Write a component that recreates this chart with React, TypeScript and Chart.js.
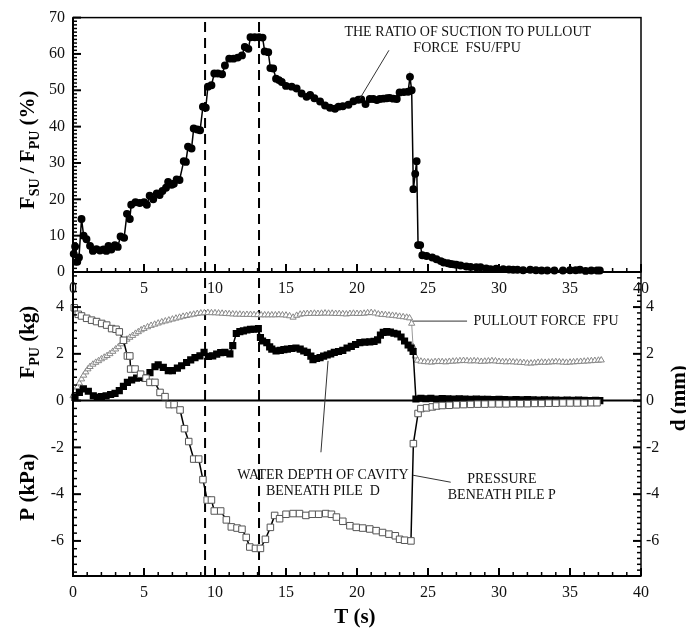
import React, { useEffect, useRef } from "react";
import { Chart, registerables } from "chart.js";

Chart.register(...registerables);

// ---------------- data ----------------
const timeTicks = [0, 5, 10, 15, 20, 25, 30, 35, 40];
const ratioTicks = [0, 10, 20, 30, 40, 50, 60, 70];
const lowerTicks = [-6, -4, -2, 0, 2, 4];
const dividerTimes = [9.3, 13.1];

// FSU/FPU ratio (%) vs T (s)
const ratioSeries: [number, number][] = [
  [0.05, 5.0], [0.15, 7.0], [0.3, 2.8], [0.42, 4.0], [0.6, 14.6], [0.75, 10.0], [0.95, 9.0],
  [1.2, 7.2], [1.4, 5.8], [1.65, 6.3], [1.9, 5.9], [2.15, 6.2], [2.35, 5.8], [2.5, 7.2],
  [2.7, 6.2], [2.95, 7.4], [3.15, 6.9], [3.35, 9.8], [3.6, 9.4], [3.8, 16.0], [4.0, 14.6],
  [4.1, 18.5], [4.4, 19.2], [4.7, 19.0], [5.0, 19.2], [5.2, 18.5], [5.4, 21.0], [5.65, 20.0],
  [5.9, 21.6], [6.1, 21.2], [6.3, 22.3], [6.55, 23.2], [6.7, 24.8], [6.95, 24.0], [7.1, 24.3],
  [7.3, 25.5], [7.5, 25.3], [7.8, 30.5], [7.95, 30.3], [8.1, 34.5], [8.35, 34.0], [8.5, 39.5],
  [8.75, 39.2], [8.95, 39.0], [9.15, 45.5], [9.35, 45.2], [9.5, 51.0], [9.75, 51.4], [9.95, 54.6],
  [10.2, 54.6], [10.5, 54.4], [10.7, 56.8], [11.0, 58.7], [11.3, 58.7], [11.6, 59.0], [11.9, 59.6],
  [12.1, 61.9], [12.35, 61.4], [12.5, 64.6], [12.8, 64.6], [13.1, 64.6], [13.35, 64.5], [13.5, 60.7],
  [13.75, 60.5], [13.9, 56.1], [14.1, 56.0], [14.3, 53.2], [14.5, 52.8], [14.7, 52.3], [15.0, 51.2],
  [15.4, 51.0], [15.75, 50.5], [16.1, 49.1], [16.45, 48.2], [16.7, 48.7], [17.0, 47.8], [17.4, 46.9],
  [17.75, 45.8], [18.1, 45.2], [18.45, 44.9], [18.7, 45.5], [19.0, 45.6], [19.4, 46.0], [19.75, 47.0],
  [20.1, 47.4], [20.3, 47.5], [20.6, 46.2], [20.9, 47.6], [21.15, 47.6], [21.4, 47.3], [21.6, 47.6],
  [21.85, 47.7], [22.1, 47.8], [22.3, 47.9], [22.55, 47.7], [22.8, 47.6], [23.0, 49.4], [23.3, 49.5],
  [23.6, 49.6], [23.73, 53.7], [23.85, 50.0], [23.97, 22.8], [24.1, 27.0], [24.2, 30.5], [24.3, 7.4],
  [24.45, 7.4], [24.6, 4.6], [24.9, 4.4], [25.3, 4.0], [25.6, 3.5], [25.9, 3.0], [26.1, 2.6],
  [26.4, 2.4], [26.6, 2.2], [26.8, 2.1], [27.0, 2.0], [27.3, 1.8], [27.7, 1.5], [28.0, 1.4],
  [28.4, 1.3], [28.7, 1.3], [29.1, 1.0], [29.4, 0.8], [29.8, 0.9], [30.3, 0.8], [30.7, 0.7],
  [31.0, 0.6], [31.3, 0.6], [31.7, 0.5], [32.2, 0.6], [32.6, 0.5], [33.0, 0.4], [33.4, 0.4],
  [33.9, 0.4], [34.5, 0.4], [35.0, 0.5], [35.4, 0.5], [35.7, 0.6], [36.1, 0.3], [36.5, 0.4],
  [36.9, 0.4], [37.1, 0.4],
];

// Pullout force FPU (kg)
const pulloutSeries: [number, number][] = [
  [0.0, 0.2], [0.15, 0.4], [0.3, 0.58], [0.45, 0.75], [0.6, 0.92], [0.75, 1.08], [0.9, 1.22],
  [1.05, 1.35], [1.2, 1.45], [1.4, 1.55], [1.6, 1.63], [1.8, 1.7], [2.0, 1.78], [2.2, 1.85],
  [2.4, 1.92], [2.6, 2.0], [2.8, 2.1], [3.0, 2.2], [3.2, 2.3], [3.4, 2.42], [3.6, 2.52],
  [3.8, 2.62], [4.0, 2.7], [4.2, 2.78], [4.4, 2.87], [4.6, 2.94], [4.8, 3.02], [5.0, 3.08],
  [5.25, 3.15], [5.5, 3.21], [5.75, 3.26], [6.0, 3.31], [6.25, 3.36], [6.5, 3.4], [6.75, 3.44],
  [7.0, 3.48], [7.25, 3.52], [7.5, 3.56], [7.75, 3.6], [8.0, 3.63], [8.25, 3.66], [8.5, 3.69],
  [8.75, 3.72], [9.0, 3.74], [9.25, 3.75], [9.5, 3.76], [9.75, 3.75], [10.0, 3.75], [10.25, 3.74],
  [10.5, 3.73], [10.75, 3.72], [11.0, 3.71], [11.25, 3.7], [11.5, 3.69], [11.75, 3.69], [12.0, 3.68],
  [12.25, 3.68], [12.5, 3.68], [12.75, 3.67], [13.0, 3.67], [13.25, 3.66], [13.5, 3.66], [13.75, 3.66],
  [14.0, 3.66], [14.25, 3.66], [14.5, 3.67], [14.75, 3.66], [15.0, 3.65], [15.25, 3.62], [15.5, 3.56],
  [15.75, 3.64], [16.0, 3.69], [16.25, 3.71], [16.5, 3.72], [16.75, 3.72], [17.0, 3.73], [17.25, 3.72],
  [17.5, 3.73], [17.75, 3.74], [18.0, 3.73], [18.25, 3.73], [18.5, 3.72], [18.75, 3.72], [19.0, 3.71],
  [19.25, 3.7], [19.5, 3.72], [19.75, 3.73], [20.0, 3.72], [20.25, 3.72], [20.5, 3.73], [20.75, 3.75],
  [21.0, 3.76], [21.25, 3.74], [21.5, 3.7], [21.75, 3.68], [22.0, 3.67], [22.25, 3.65], [22.5, 3.64],
  [22.75, 3.62], [23.0, 3.6], [23.25, 3.58], [23.5, 3.56], [23.7, 3.53], [23.85, 3.3], [23.95, 2.3],
  [24.1, 1.9], [24.25, 1.72], [24.5, 1.68], [24.75, 1.66], [25.0, 1.65], [25.25, 1.64], [25.5, 1.66],
  [25.75, 1.67], [26.0, 1.66], [26.25, 1.65], [26.5, 1.67], [26.75, 1.68], [27.0, 1.69], [27.25, 1.7],
  [27.5, 1.71], [27.75, 1.7], [28.0, 1.69], [28.25, 1.7], [28.5, 1.69], [28.75, 1.67], [29.0, 1.68],
  [29.25, 1.69], [29.5, 1.7], [29.75, 1.69], [30.0, 1.67], [30.25, 1.66], [30.5, 1.65], [30.75, 1.66],
  [31.0, 1.65], [31.25, 1.64], [31.5, 1.63], [31.75, 1.62], [32.0, 1.6], [32.25, 1.6], [32.5, 1.61],
  [32.75, 1.63], [33.0, 1.64], [33.25, 1.63], [33.5, 1.64], [33.75, 1.65], [34.0, 1.66], [34.25, 1.65],
  [34.5, 1.64], [34.75, 1.63], [35.0, 1.64], [35.25, 1.65], [35.5, 1.66], [35.75, 1.67], [36.0, 1.68],
  [36.25, 1.69], [36.5, 1.7], [36.75, 1.71], [37.0, 1.72], [37.2, 1.73],
];

// Water depth of cavity beneath pile D (mm)
const depthSeries: [number, number][] = [
  [0.14, 0.14], [0.45, 0.35], [0.73, 0.5], [1.08, 0.4], [1.43, 0.21], [1.71, 0.14], [2.0, 0.17],
  [2.33, 0.2], [2.65, 0.26], [2.96, 0.31], [3.26, 0.43], [3.55, 0.61], [3.83, 0.78], [4.13, 0.88],
  [4.48, 0.96], [4.76, 0.99], [5.07, 0.96], [5.42, 1.2], [5.77, 1.45], [6.0, 1.53], [6.36, 1.42],
  [6.71, 1.28], [7.0, 1.28], [7.35, 1.39], [7.65, 1.49], [8.0, 1.63], [8.29, 1.74], [8.59, 1.84],
  [8.94, 1.91], [9.23, 2.06], [9.53, 1.89], [9.84, 1.91], [10.12, 1.99], [10.4, 2.05], [10.7, 2.06],
  [11.05, 2.0], [11.25, 2.35], [11.5, 2.87], [11.75, 2.95], [12.0, 2.98], [12.25, 3.02], [12.5, 3.05],
  [12.75, 3.05], [13.05, 3.08], [13.2, 2.7], [13.35, 2.55], [13.65, 2.48], [13.85, 2.3], [14.0, 2.2],
  [14.3, 2.13], [14.6, 2.15], [14.85, 2.18], [15.1, 2.2], [15.4, 2.23], [15.7, 2.25], [16.0, 2.2],
  [16.25, 2.12], [16.5, 2.06], [16.75, 1.9], [16.9, 1.75], [17.15, 1.8], [17.4, 1.84], [17.65, 1.9],
  [17.9, 1.95], [18.15, 2.0], [18.4, 2.06], [18.7, 2.1], [19.0, 2.15], [19.3, 2.25], [19.6, 2.32],
  [19.9, 2.4], [20.2, 2.48], [20.55, 2.5], [20.9, 2.51], [21.2, 2.53], [21.45, 2.6], [21.65, 2.8],
  [21.85, 2.92], [22.1, 2.95], [22.35, 2.93], [22.6, 2.88], [22.85, 2.85], [23.1, 2.72], [23.35, 2.55],
  [23.6, 2.38], [23.8, 2.25], [23.95, 2.1], [24.15, 0.07], [24.5, 0.1], [24.85, 0.08], [25.2, 0.1],
  [25.6, 0.07], [26.0, 0.09], [26.4, 0.08], [26.8, 0.07], [27.2, 0.08], [27.6, 0.07], [28.0, 0.06],
  [28.4, 0.07], [28.8, 0.05], [29.2, 0.06], [29.6, 0.04], [30.0, 0.05], [30.4, 0.04], [30.8, 0.03],
  [31.2, 0.04], [31.6, 0.03], [32.0, 0.04], [32.4, 0.03], [32.8, 0.02], [33.2, 0.03], [33.6, 0.02],
  [34.0, 0.02], [34.4, 0.01], [34.8, 0.02], [35.2, 0.01], [35.6, 0.02], [36.0, 0.01], [36.4, 0.0],
  [36.8, 0.01], [37.1, 0.0],
];

// Pressure beneath pile P (kPa)
const pressureSeries: [number, number][] = [
  [0.09, 3.97], [0.37, 3.69], [0.6, 3.62], [0.96, 3.52], [1.31, 3.44], [1.66, 3.38], [2.02, 3.3],
  [2.37, 3.23], [2.72, 3.08], [3.03, 3.05], [3.26, 2.94], [3.55, 2.58], [3.83, 1.91], [4.0, 1.91],
  [4.06, 1.35], [4.37, 1.35], [4.76, 1.13], [5.14, 0.96], [5.42, 0.78], [5.77, 0.78], [6.13, 0.35],
  [6.48, 0.17], [6.78, -0.17], [7.12, -0.17], [7.54, -0.4], [7.85, -1.2], [8.15, -1.75], [8.5, -2.5],
  [8.85, -2.5], [9.15, -3.38], [9.45, -4.25], [9.75, -4.25], [9.95, -4.72], [10.4, -4.72], [10.8, -5.1],
  [11.15, -5.4], [11.55, -5.45], [11.9, -5.5], [12.2, -5.85], [12.45, -6.26], [12.85, -6.32],
  [13.2, -6.32], [13.55, -5.93], [13.9, -5.42], [14.2, -4.91], [14.55, -5.05], [15.0, -4.86],
  [15.5, -4.83], [15.95, -4.83], [16.4, -4.91], [16.85, -4.86], [17.3, -4.86], [17.8, -4.83],
  [18.2, -4.86], [18.55, -4.98], [19.0, -5.16], [19.5, -5.35], [19.95, -5.42], [20.4, -5.45],
  [20.9, -5.49], [21.35, -5.56], [21.8, -5.64], [22.25, -5.71], [22.7, -5.78], [23.0, -5.93],
  [23.35, -5.97], [23.8, -6.0], [23.97, -1.84], [24.3, -0.55], [24.5, -0.34], [24.9, -0.31],
  [25.3, -0.27], [25.6, -0.23], [26.0, -0.21], [26.5, -0.2], [27.0, -0.18], [27.5, -0.17],
  [28.0, -0.16], [28.5, -0.15], [29.0, -0.15], [29.5, -0.14], [30.0, -0.14], [30.5, -0.14],
  [31.0, -0.13], [31.5, -0.13], [32.0, -0.13], [32.5, -0.12], [33.0, -0.12], [33.5, -0.11],
  [34.0, -0.11], [34.5, -0.1], [35.0, -0.1], [35.5, -0.1], [36.0, -0.1], [36.5, -0.09], [36.9, -0.09],
];

// ---------------- styling helpers ----------------
const SERIF = "'Liberation Serif', 'Times New Roman', 'DejaVu Serif', serif";
Chart.defaults.font.family = SERIF;

const toXY = (s: [number, number][]) => s.map(([x, y]) => ({ x, y }));

type Part = { t: string; sub?: boolean };

function drawRich(ctx: CanvasRenderingContext2D, parts: Part[], x: number, y: number, vertical: boolean) {
  const main = `bold 21px ${SERIF}`;
  const sub = `bold 14px ${SERIF}`;
  let total = 0;
  const widths = parts.map((p) => {
    ctx.font = p.sub ? sub : main;
    const w = ctx.measureText(p.t).width;
    total += w;
    return w;
  });
  ctx.save();
  ctx.translate(x, y);
  if (vertical) ctx.rotate(-Math.PI / 2);
  ctx.fillStyle = "#000";
  ctx.textAlign = "left";
  ctx.textBaseline = "alphabetic";
  let cx = -total / 2;
  parts.forEach((p, i) => {
    ctx.font = p.sub ? sub : main;
    ctx.fillText(p.t, cx, p.sub ? 5 : 0);
    cx += widths[i];
  });
  ctx.restore();
}

function axisTicks(
  ctx: CanvasRenderingContext2D,
  scale: any,
  side: "left" | "right" | "bottom",
  at: number,
  majors: number[],
  minorStep: number
) {
  const min = scale.min;
  const max = scale.max;
  const line = (v: number, len: number) => {
    const p = scale.getPixelForValue(v);
    ctx.beginPath();
    if (side === "left") {
      ctx.moveTo(at, p);
      ctx.lineTo(at + len, p);
    } else if (side === "right") {
      ctx.moveTo(at, p);
      ctx.lineTo(at - len, p);
    } else {
      ctx.moveTo(p, at);
      ctx.lineTo(p, at - len);
    }
    ctx.stroke();
  };
  ctx.lineWidth = 1.5;
  const start = Math.ceil(min / minorStep - 1e-6);
  for (let i = start; i * minorStep <= max + 1e-6; i++) {
    const v = i * minorStep;
    if (majors.some((m) => Math.abs(m - v) < 1e-6)) continue;
    line(v, 4);
  }
  ctx.lineWidth = 2;
  majors.forEach((m) => line(m, 8));
}

function annotate(ctx: CanvasRenderingContext2D, text: string, x: number, y: number, align: CanvasTextAlign) {
  ctx.font = `14px ${SERIF}`;
  ctx.fillStyle = "#111";
  ctx.textAlign = align;
  ctx.textBaseline = "middle";
  ctx.fillText(text, x, y);
}

function leader(ctx: CanvasRenderingContext2D, x1: number, y1: number, x2: number, y2: number) {
  ctx.strokeStyle = "#333";
  ctx.lineWidth = 1;
  ctx.beginPath();
  ctx.moveTo(x1, y1);
  ctx.lineTo(x2, y2);
  ctx.stroke();
}

function frame(ctx: CanvasRenderingContext2D, a: any) {
  ctx.strokeStyle = "#000";
  ctx.lineWidth = 1.5;
  ctx.strokeRect(a.left, a.top, a.right - a.left, a.bottom - a.top);
  ctx.lineWidth = 2;
  ctx.beginPath();
  ctx.moveTo(a.left, a.top);
  ctx.lineTo(a.left, a.bottom);
  ctx.lineTo(a.right, a.bottom);
  ctx.stroke();
}

const tickFont = { family: SERIF, size: 16 };

const topPlugin = {
  id: "topDecor",
  afterDraw(chart: any) {
    const { ctx, chartArea: a, scales } = chart;
    const x = scales.x;
    const y = scales.y;
    ctx.save();
    frame(ctx, a);
    ctx.strokeStyle = "#000";
    axisTicks(ctx, y, "left", a.left, ratioTicks, 1);
    axisTicks(ctx, x, "bottom", a.bottom, timeTicks, 1);
    drawRich(
      ctx,
      [{ t: "F" }, { t: "SU", sub: true }, { t: " / F" }, { t: "PU", sub: true }, { t: " (%)" }],
      a.left - 39,
      (a.top + a.bottom) / 2 + 5,
      true
    );
    annotate(ctx, "THE RATIO OF SUCTION TO PULLOUT", x.getPixelForValue(27.8), y.getPixelForValue(65.9), "center");
    annotate(ctx, "FORCE  FSU/FPU", x.getPixelForValue(27.75), y.getPixelForValue(61.6), "center");
    leader(ctx, x.getPixelForValue(22.25), y.getPixelForValue(61.0), x.getPixelForValue(20.2), y.getPixelForValue(47.7));
    ctx.restore();
  },
};

const bottomPlugin = {
  id: "bottomDecor",
  beforeDatasetsDraw(chart: any) {
    const { ctx, chartArea: a, scales } = chart;
    const p0 = scales.y.getPixelForValue(0);
    ctx.save();
    ctx.strokeStyle = "#000";
    ctx.lineWidth = 2;
    ctx.beginPath();
    ctx.moveTo(a.left, p0);
    ctx.lineTo(a.right, p0);
    ctx.stroke();
    ctx.restore();
  },
  afterDraw(chart: any) {
    const { ctx, chartArea: a, scales } = chart;
    const x = scales.x;
    const y = scales.y;
    const y2 = scales.y2;
    ctx.save();
    frame(ctx, a);
    ctx.strokeStyle = "#000";
    axisTicks(ctx, y, "left", a.left, lowerTicks, 1 / 3);
    axisTicks(ctx, y2, "right", a.right, lowerTicks, 0.25);
    axisTicks(ctx, x, "bottom", a.bottom, timeTicks, 1);
    drawRich(ctx, [{ t: "F" }, { t: "PU", sub: true }, { t: " (kg)" }], a.left - 39, y.getPixelForValue(2.5), true);
    drawRich(ctx, [{ t: "P (kPa)" }], a.left - 39, y.getPixelForValue(-3.7), true);
    drawRich(ctx, [{ t: "d (mm)" }], a.right + 44, y.getPixelForValue(0.1), true);
    drawRich(ctx, [{ t: "T (s)" }], x.getPixelForValue(19.85), a.bottom + 47, false);

    annotate(ctx, "PULLOUT FORCE  FPU", x.getPixelForValue(28.2), y.getPixelForValue(3.4), "left");
    leader(ctx, x.getPixelForValue(23.94), y.getPixelForValue(3.4), x.getPixelForValue(27.75), y.getPixelForValue(3.4));

    annotate(ctx, "WATER DEPTH OF CAVITY", x.getPixelForValue(17.6), y.getPixelForValue(-3.19), "center");
    annotate(ctx, "BENEATH PILE  D", x.getPixelForValue(17.6), y.getPixelForValue(-3.87), "center");
    leader(ctx, x.getPixelForValue(17.96), y.getPixelForValue(1.7), x.getPixelForValue(17.46), y.getPixelForValue(-2.21));

    annotate(ctx, "PRESSURE", x.getPixelForValue(30.2), y.getPixelForValue(-3.36), "center");
    annotate(ctx, "BENEATH PILE P", x.getPixelForValue(30.2), y.getPixelForValue(-4.04), "center");
    leader(ctx, x.getPixelForValue(23.94), y.getPixelForValue(-3.19), x.getPixelForValue(26.6), y.getPixelForValue(-3.49));
    ctx.restore();
  },
};

function dividerDatasets(lo: number, hi: number, yAxisID: string) {
  return dividerTimes.map((t) => ({
    type: "line" as const,
    data: [
      { x: t, y: lo },
      { x: t, y: hi },
    ],
    yAxisID,
    borderColor: "#000",
    borderWidth: 2,
    borderDash: [10, 6],
    pointRadius: 0,
    showLine: true,
    clip: false as any,
  }));
}

function xScale(height: number) {
  return {
    type: "linear" as const,
    min: 0,
    max: 40,
    position: "bottom" as const,
    grid: { display: false, drawTicks: false },
    border: { display: false },
    ticks: { font: tickFont, color: "#111", padding: 7, maxRotation: 0, autoSkip: false },
    afterBuildTicks: (s: any) => {
      s.ticks = timeTicks.map((v) => ({ value: v }));
    },
    afterFit: (s: any) => {
      s.height = height;
    },
  };
}

export default function App() {
  const topRef = useRef<HTMLCanvasElement>(null);
  const botRef = useRef<HTMLCanvasElement>(null);

  useEffect(() => {
    const bottom = new Chart(botRef.current as HTMLCanvasElement, {
      type: "scatter",
      data: {
        datasets: [
          {
            label: "P",
            data: toXY(pressureSeries),
            yAxisID: "y",
            showLine: true,
            borderColor: "#000",
            borderWidth: 1.5,
            pointStyle: "rect",
            pointRadius: 4.6,
            pointBorderColor: "#555",
            pointBackgroundColor: "#fff",
            pointBorderWidth: 1,
            clip: false as any,
          },
          {
            label: "D",
            data: toXY(depthSeries),
            yAxisID: "y2",
            showLine: true,
            borderColor: "#000",
            borderWidth: 1.5,
            pointStyle: "rect",
            pointRadius: 4,
            pointBorderColor: "#000",
            pointBackgroundColor: "#000",
            clip: false as any,
          },
          {
            label: "FPU",
            data: toXY(pulloutSeries),
            yAxisID: "y",
            showLine: true,
            borderColor: "#999",
            borderWidth: 1,
            pointStyle: "triangle",
            pointRadius: 3.6,
            pointBorderColor: "#888",
            pointBackgroundColor: "#fff",
            pointBorderWidth: 1,
            clip: false as any,
          },
          ...dividerDatasets(-7.5, 5.5, "y"),
        ] as any,
      },
      options: {
        responsive: false,
        animation: false,
        devicePixelRatio: 1,
        layout: { padding: { top: 272, left: 0, right: 0, bottom: 0 } },
        plugins: { legend: { display: false }, tooltip: { enabled: false } },
        scales: {
          x: xScale(52) as any,
          y: {
            type: "linear",
            min: -7.5,
            max: 5.5,
            position: "left",
            grid: { display: false, drawTicks: false },
            border: { display: false },
            ticks: { font: tickFont, color: "#111", padding: 9 },
            afterBuildTicks: (s: any) => {
              s.ticks = lowerTicks.map((v) => ({ value: v }));
            },
            afterFit: (s: any) => {
              s.width = 73;
            },
          },
          y2: {
            type: "linear",
            min: -7.5,
            max: 5.5,
            position: "right",
            grid: { display: false, drawTicks: false },
            border: { display: false },
            ticks: { font: tickFont, color: "#111", padding: 5 },
            afterBuildTicks: (s: any) => {
              s.ticks = lowerTicks.map((v) => ({ value: v }));
            },
            afterFit: (s: any) => {
              s.width = 45;
            },
          },
        },
      },
      plugins: [bottomPlugin],
    });

    const top = new Chart(topRef.current as HTMLCanvasElement, {
      type: "scatter",
      data: {
        datasets: [
          {
            label: "FSU/FPU",
            data: toXY(ratioSeries),
            yAxisID: "y",
            showLine: true,
            borderColor: "#000",
            borderWidth: 1.5,
            pointStyle: "circle",
            pointRadius: 3.2,
            pointBorderColor: "#000",
            pointBackgroundColor: "#000",
            clip: false as any,
          },
          ...dividerDatasets(0, 70, "y"),
        ] as any,
      },
      options: {
        responsive: false,
        animation: false,
        devicePixelRatio: 1,
        layout: { padding: { top: 15, left: 0, right: 45, bottom: 0 } },
        plugins: { legend: { display: false }, tooltip: { enabled: false } },
        scales: {
          x: xScale(28) as any,
          y: {
            type: "linear",
            min: 0,
            max: 70,
            position: "left",
            grid: { display: false, drawTicks: false },
            border: { display: false },
            ticks: { font: tickFont, color: "#111", padding: 8 },
            afterBuildTicks: (s: any) => {
              s.ticks = ratioTicks.map((v) => ({ value: v }));
            },
            afterFit: (s: any) => {
              s.width = 73;
            },
          },
        },
      },
      plugins: [topPlugin],
    });

    return () => {
      top.destroy();
      bottom.destroy();
    };
  }, []);

  return (
    <div
      style={{
        position: "absolute",
        left: 0,
        top: 0,
        width: 686,
        height: 628,
        background: "#fff",
        overflow: "hidden",
      }}
    >
      <canvas ref={botRef} width={686} height={628} style={{ position: "absolute", left: 0, top: 0 }} />
      <canvas ref={topRef} width={686} height={300} style={{ position: "absolute", left: 0, top: 0 }} />
    </div>
  );
}
